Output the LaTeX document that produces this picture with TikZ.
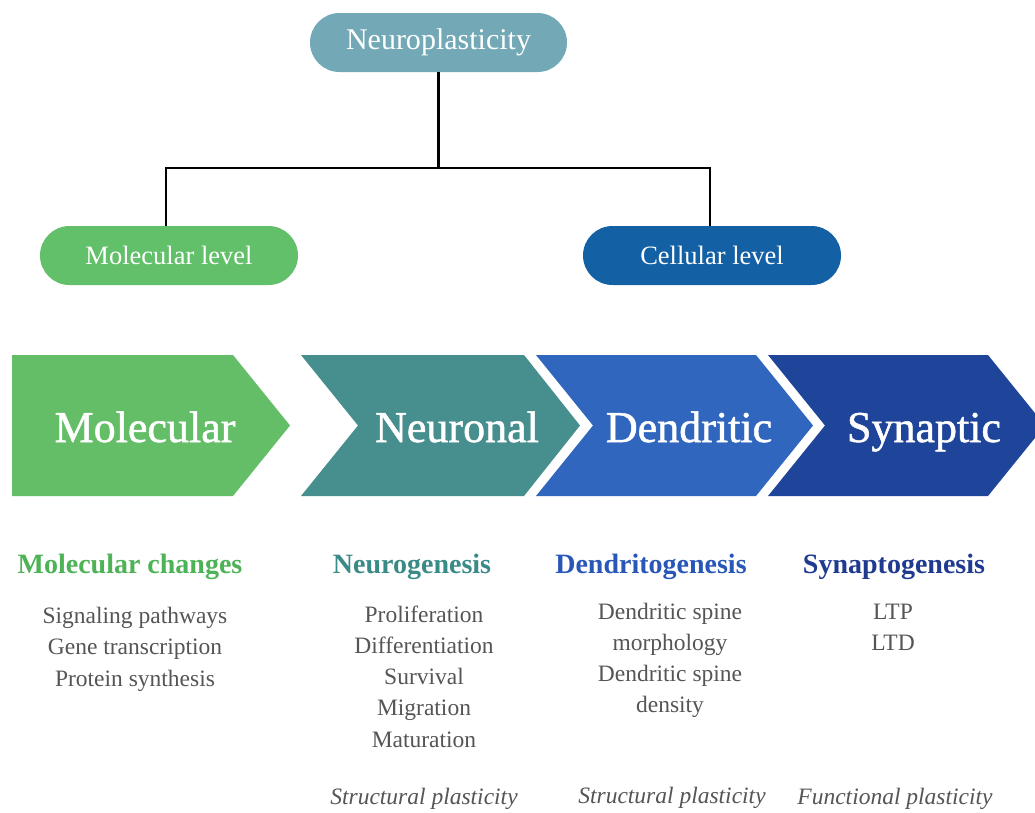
\documentclass[tikz,border=0pt]{standalone}
\usepackage{fontspec}
\setmainfont{Liberation Serif}
\newfontfamily\chevfont[FakeBold=1.2]{Liberation Serif}
\definecolor{npc}{HTML}{73A9B6}
\definecolor{mlc}{HTML}{62BF6A}
\definecolor{clc}{HTML}{1460A5}
\definecolor{chmol}{HTML}{63BE67}
\definecolor{chneu}{HTML}{468F8E}
\definecolor{chden}{HTML}{3166BF}
\definecolor{chsyn}{HTML}{1F459B}
\definecolor{hmol}{HTML}{4DB356}
\definecolor{hneu}{HTML}{3A8A88}
\definecolor{hden}{HTML}{2857B8}
\definecolor{hsyn}{HTML}{1F3A8F}
\definecolor{itemgray}{HTML}{555555}
\begin{document}
\begin{tikzpicture}[x=1pt,y=-1pt,
  pill/.style={rectangle, rounded corners=29.5pt, minimum height=59pt, text=white, inner sep=0pt},
  chevtext/.style={anchor=base, text=white, font=\chevfont\fontsize{44}{50}\selectfont},
  heading/.style={anchor=base, font=\bfseries\fontsize{28}{32}\selectfont},
  itemtext/.style={anchor=base, text=itemgray, font=\fontsize{23.5}{28}\selectfont},
  plast/.style={anchor=base, text=itemgray, font=\itshape\fontsize{23.5}{28}\selectfont},
  tree/.style={line width=2.2pt, black}
]
\useasboundingbox (0,0) rectangle (1035,812);
\fill[white] (0,0) rectangle (1035,812);

% top tree
\node[pill, fill=npc, minimum width=257pt, font=\fontsize{30}{36}\selectfont] (np) at (438.5,42.5) {Neuroplasticity};
\node[pill, fill=mlc, minimum width=258pt, font=\fontsize{26.5}{32}\selectfont] (ml) at (169,255.5) {Molecular level};
\node[pill, fill=clc, minimum width=258pt, font=\fontsize{26.5}{32}\selectfont] (cl) at (712,255.5) {Cellular level};
\coordinate (junc) at (438.5,168);
\draw[tree] (np.south) -- (junc);
\draw[tree] (junc) -| ([xshift=-3pt]ml.north);
\draw[tree] (junc) -| ([xshift=-2pt]cl.north);

% chevrons
\fill[chmol] (12,355) -- (233,355) -- (290,425.5) -- (233,496) -- (12,496) -- cycle;
\fill[chneu] (301,355) -- (524,355) -- (580,425.5) -- (524,496) -- (301,496) -- (358,425.5) -- cycle;
\fill[chden] (536,355) -- (756,355) -- (813,425.5) -- (756,496) -- (536,496) -- (593,425.5) -- cycle;
\fill[chsyn] (768,355) -- (988,355) -- (1045,425.5) -- (988,496) -- (768,496) -- (825,425.5) -- cycle;

\node[chevtext] (tmol) at (145,442) {Molecular};
\node[chevtext] (tneu) at (457,442) {Neuronal};
\node[chevtext] (tden) at (689,442) {Dendritic};
\node[chevtext] (tsyn) at (924,442) {Synaptic};

% headings
\node[heading, text=hmol] (hm) at (130,573) {Molecular changes};
\node[heading, text=hneu] (hn) at (412,573) {Neurogenesis};
\node[heading, text=hden] (hd) at (651,573) {Dendritogenesis};
\node[heading, text=hsyn] (hs) at (894,573) {Synaptogenesis};

% items
\node[itemtext] (m1) at (135,623) {Signaling pathways};
\node[itemtext] (m2) at (135,654.5) {Gene transcription};
\node[itemtext] (m3) at (135,686) {Protein synthesis};

\node[itemtext] (n1) at (424,622) {Proliferation};
\node[itemtext] (n2) at (424,653.3) {Differentiation};
\node[itemtext] (n3) at (424,684.6) {Survival};
\node[itemtext] (n4) at (424,715.9) {Migration};
\node[itemtext] (n5) at (424,747.2) {Maturation};

\node[itemtext] (d1) at (670,619) {Dendritic spine};
\node[itemtext] (d2) at (670,650.3) {morphology};
\node[itemtext] (d3) at (670,681.6) {Dendritic spine};
\node[itemtext] (d4) at (670,712.9) {density};

\node[itemtext] (s1) at (893,619) {LTP};
\node[itemtext] (s2) at (893,650.3) {LTD};

% plasticity labels
\node[plast] (p1) at (424,804) {Structural plasticity};
\node[plast] (p2) at (672,803) {Structural plasticity};
\node[plast] (p3) at (895,804) {Functional plasticity};
\end{tikzpicture}
\end{document}
